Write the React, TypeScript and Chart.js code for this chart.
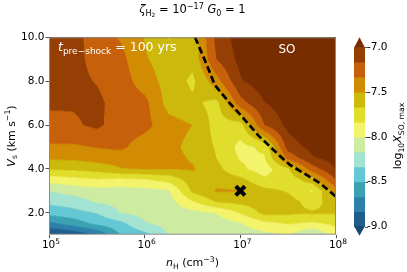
import React, { useEffect, useRef } from 'react';
import { Chart, registerables } from 'chart.js';

Chart.register(...registerables);

// ---- data -------------------------------------------------------------
// grid columns: log10 n_H (cm^-3)
const logNH = [5.0, 5.25, 5.5, 5.75, 6.0, 6.25, 6.5, 6.75, 7.0, 7.25, 7.5, 7.75, 8.0];
// grid rows: shock velocity V_s (km/s), top to bottom
const vsRows = [10, 9, 8, 7, 6, 5, 4.5, 4, 3.5, 3, 2.5, 2, 1.5, 1];

// log10 X_SO,max, one array per V_s row
const xsoVs10 = [-7.067, -7.1, -7.25, -7.35, -7.508, -7.675, -7.617, -7.117, -6.917, -6.833, -6.833, -6.833, -6.833];
const xsoVs9 = [-7.083, -7.117, -7.217, -7.283, -7.483, -7.583, -7.617, -7.167, -6.95, -6.833, -6.833, -6.833, -6.833];
const xsoVs8 = [-7.1, -7.125, -7.175, -7.25, -7.417, -7.567, -7.7, -7.4, -7.017, -6.9, -6.833, -6.833, -6.833];
const xsoVs7 = [-7.133, -7.15, -7.133, -7.233, -7.283, -7.567, -7.633, -7.717, -7.233, -7.008, -6.9, -6.833, -6.833];
const xsoVs6 = [-7.233, -7.192, -7.133, -7.25, -7.283, -7.433, -7.5, -7.733, -7.733, -7.167, -6.95, -6.867, -6.833];
const xsoVs5 = [-7.35, -7.358, -7.325, -7.3, -7.417, -7.45, -7.55, -7.683, -7.883, -7.8, -7.083, -6.95, -6.867];
const xsoVs4p5 = [-7.467, -7.467, -7.425, -7.417, -7.45, -7.45, -7.517, -7.667, -7.85, -7.85, -7.283, -7.017, -6.933];
const xsoVs4 = [-7.65, -7.633, -7.6, -7.508, -7.492, -7.492, -7.483, -7.617, -7.8, -7.917, -7.683, -7.25, -6.992];
const xsoVs3p5 = [-7.933, -7.892, -7.85, -7.883, -7.85, -7.783, -7.583, -7.567, -7.617, -7.8, -7.767, -7.583, -7.167];
const xsoVs3 = [-8.158, -8.1, -8.067, -8.067, -8.05, -8.017, -7.633, -7.483, -7.492, -7.617, -7.683, -7.85, -7.4];
const xsoVs2p5 = [-8.3, -8.25, -8.15, -8.117, -8.083, -8.067, -7.85, -7.658, -7.617, -7.583, -7.6, -7.733, -7.583];
const xsoVs2 = [-8.433, -8.392, -8.325, -8.158, -8.117, -8.083, -8.05, -7.992, -7.825, -7.617, -7.633, -7.65, -7.65];
const xsoVs1p5 = [-8.717, -8.6, -8.467, -8.383, -8.183, -8.117, -8.083, -8.083, -8.017, -7.883, -7.825, -7.867, -7.8];
const xsoVs1 = [-9.033, -8.967, -8.825, -8.492, -8.383, -8.158, -8.117, -8.117, -8.083, -8.05, -7.992, -8.183, -7.917];

const xsoGrid = [xsoVs10, xsoVs9, xsoVs8, xsoVs7, xsoVs6, xsoVs5, xsoVs4p5, xsoVs4, xsoVs3p5, xsoVs3, xsoVs2p5, xsoVs2, xsoVs1p5, xsoVs1];

// contour levels (colorbar boundaries) and colours (extend both)
const levels = [-9.0, -8.8333, -8.6667, -8.5, -8.3333, -8.1667, -8.0, -7.8333, -7.6667, -7.5, -7.3333, -7.1667, -7.0];
const bandColors = [
  '#184c72', '#1f5f8c', '#2e80aa', '#3aa2b3', '#63c7d4', '#a2e3d1', '#cdeca2',
  '#f3f36c', '#e0dd2c', '#cdb80c', '#d18c03', '#c7600a', '#963f04', '#782d00',
];

// dashed boundary curve
const dashNH = [3.36e6, 4.28e6, 5.43e6, 7.8e6, 1.067e7, 1.53e7, 2.3e7, 3.3e7, 4.74e7, 6.81e7, 1e8];
const dashVs = [10.0, 8.93, 7.81, 6.99, 6.33, 5.54, 4.8, 4.18, 3.77, 3.35, 2.73];

// marked model
const markerNH = [1e7];
const markerVs = [3.0];

// ticks
const xTicks = [1e5, 1e6, 1e7, 1e8];
const xTickExp = ['5', '6', '7', '8'];
const yTicks = [2, 4, 6, 8, 10];
const cbTicks = [-9.0, -8.5, -8.0, -7.5, -7.0];

// ---- helpers ------------------------------------------------------------
const FONT = '"DejaVu Sans"';
type Seg = { t: string; size: number; italic?: boolean; dy?: number };

function drawRich(ctx: CanvasRenderingContext2D, segs: Seg[], x: number, y: number, align: 'left' | 'center', rot = 0, color = '#000') {
  ctx.save();
  ctx.translate(x, y);
  ctx.rotate(rot);
  ctx.fillStyle = color;
  ctx.textBaseline = 'alphabetic';
  ctx.textAlign = 'left';
  const fontOf = (s: Seg) => `${s.italic ? 'italic ' : ''}${s.size}px ${FONT}`;
  let w = 0;
  for (const s of segs) {
    ctx.font = fontOf(s);
    w += ctx.measureText(s.t).width;
  }
  let cx = align === 'center' ? -w / 2 : 0;
  for (const s of segs) {
    ctx.font = fontOf(s);
    ctx.fillText(s.t, cx, s.dy || 0);
    cx += ctx.measureText(s.t).width;
  }
  ctx.restore();
}

function hexToRgb(h: string) {
  const n = parseInt(h.slice(1), 16);
  return [(n >> 16) & 255, (n >> 8) & 255, n & 255];
}

function interp(logn: number, vs: number) {
  let i = 0;
  while (i < logNH.length - 2 && logn > logNH[i + 1]) i++;
  let tx = (logn - logNH[i]) / (logNH[i + 1] - logNH[i]);
  tx = Math.max(0, Math.min(1, tx));
  let j = 0;
  while (j < vsRows.length - 2 && vs < vsRows[j + 1]) j++;
  let ty = (vsRows[j] - vs) / (vsRows[j] - vsRows[j + 1]);
  ty = Math.max(0, Math.min(1, ty));
  const g = xsoGrid;
  const a = g[j][i] * (1 - tx) + g[j][i + 1] * tx;
  const b = g[j + 1][i] * (1 - tx) + g[j + 1][i + 1] * tx;
  return a * (1 - ty) + b * ty;
}

function bandOf(v: number) {
  let k = 0;
  while (k < levels.length && v >= levels[k]) k++;
  return k;
}

const contourPlugin = {
  id: 'contourFill',
  beforeDatasetsDraw(chart: any) {
    const { ctx, chartArea: a, scales } = chart;
    const xs = scales.x;
    const ys = scales.y;
    const w = Math.round(a.right - a.left);
    const h = Math.round(a.bottom - a.top);
    const off = document.createElement('canvas');
    off.width = w;
    off.height = h;
    const octx = off.getContext('2d')!;
    const img = octx.createImageData(w, h);
    const rgb = bandColors.map(hexToRgb);
    const sub = [0.25, 0.75];
    const colLog: number[][] = [];
    for (let px = 0; px < w; px++) {
      colLog.push(sub.map((s) => Math.log10(xs.getValueForPixel(a.left + px + s))));
    }
    for (let py = 0; py < h; py++) {
      const rowVs = sub.map((s) => ys.getValueForPixel(a.top + py + s));
      for (let px = 0; px < w; px++) {
        let r = 0, g = 0, b = 0;
        for (const vs of rowVs) {
          for (const ln of colLog[px]) {
            const c = rgb[bandOf(interp(ln, vs))];
            r += c[0]; g += c[1]; b += c[2];
          }
        }
        const o = (py * w + px) * 4;
        img.data[o] = r / 4;
        img.data[o + 1] = g / 4;
        img.data[o + 2] = b / 4;
        img.data[o + 3] = 255;
      }
    }
    octx.putImageData(img, 0, 0);
    ctx.drawImage(off, a.left, a.top);
  },
  afterDraw(chart: any) {
    const { ctx, chartArea: a, scales } = chart;
    const xs = scales.x;
    const cb = scales.cb;
    ctx.save();
    // frame
    ctx.strokeStyle = '#8a8a8a';
    ctx.lineWidth = 1;
    ctx.strokeRect(a.left + 0.5, a.top + 0.5, a.right - a.left - 1, a.bottom - a.top - 1);

    // x tick labels 10^n
    xTicks.forEach((v, i) => {
      const px = xs.getPixelForValue(v);
      drawRich(ctx, [
        { t: '10', size: 10.5 },
        { t: xTickExp[i], size: 7.5, dy: -4.5 },
      ], px + 2, a.bottom + 13.5, 'center');
    });

    // axis titles
    drawRich(ctx, [
      { t: 'n', size: 11, italic: true },
      { t: 'H', size: 7.7, dy: 2.5 },
      { t: ' (cm', size: 11 },
      { t: '\u22123', size: 7.7, dy: -4.5 },
      { t: ')', size: 11 },
    ], (a.left + a.right) / 2, 266, 'center');

    drawRich(ctx, [
      { t: 'V', size: 11, italic: true },
      { t: 's', size: 7.7, dy: 2.5 },
      { t: ' (km s', size: 11 },
      { t: '\u22121', size: 7.7, dy: -4.5 },
      { t: ')', size: 11 },
    ], 14.5, (a.top + a.bottom) / 2, 'center', -Math.PI / 2);

    // title
    drawRich(ctx, [
      { t: '\u03b6', size: 11.5, italic: true },
      { t: 'H', size: 8, dy: 2.5 },
      { t: '2', size: 5.8, dy: 4 },
      { t: ' = 10', size: 11.5 },
      { t: '\u221217', size: 8, dy: -4.5 },
      { t: ' ', size: 11.5 },
      { t: 'G', size: 11.5, italic: true },
      { t: '0', size: 8, dy: 2.5 },
      { t: ' = 1', size: 11.5 },
    ], (a.left + a.right) / 2, 13, 'center');

    // annotations
    drawRich(ctx, [
      { t: 't', size: 12.5, italic: true },
      { t: 'pre\u2212shock', size: 9, dy: 3 },
      { t: ' = 100 yrs', size: 12.5 },
    ], a.left + 9, a.top + 14, 'left', 0, '#ffffff');
    drawRich(ctx, [{ t: 'SO', size: 12 }], 287, a.top + 16, 'center', 0, '#ffffff');

    // colorbar
    const bx = a.right + 18;
    const bw = 11;
    for (let k = 0; k < levels.length - 1; k++) {
      const y0 = cb.getPixelForValue(levels[k]);
      const y1 = cb.getPixelForValue(levels[k + 1]);
      ctx.fillStyle = bandColors[k + 1];
      ctx.fillRect(bx, y1, bw, y0 - y1 + 0.5);
    }
    const yTop = cb.getPixelForValue(levels[levels.length - 1]);
    const yBot = cb.getPixelForValue(levels[0]);
    ctx.fillStyle = bandColors[bandColors.length - 1];
    ctx.beginPath();
    ctx.moveTo(bx, yTop + 0.5);
    ctx.lineTo(bx + bw / 2, cb.top);
    ctx.lineTo(bx + bw, yTop + 0.5);
    ctx.closePath();
    ctx.fill();
    ctx.fillStyle = bandColors[0];
    ctx.beginPath();
    ctx.moveTo(bx, yBot - 0.5);
    ctx.lineTo(bx + bw / 2, cb.bottom + 1);
    ctx.lineTo(bx + bw, yBot - 0.5);
    ctx.closePath();
    ctx.fill();
    ctx.strokeStyle = '#333';
    ctx.lineWidth = 0.8;
    cbTicks.forEach((v) => {
      const y = Math.round(cb.getPixelForValue(v)) + 0.5;
      ctx.beginPath();
      ctx.moveTo(bx + bw, y);
      ctx.lineTo(bx + bw + 3, y);
      ctx.stroke();
    });
    drawRich(ctx, [
      { t: 'log', size: 11 },
      { t: '10', size: 7.7, dy: 2.5 },
      { t: 'X', size: 11, italic: true },
      { t: 'SO, max', size: 7.7, dy: 2.5 },
    ], 401, (a.top + a.bottom) / 2, 'center', -Math.PI / 2);
    ctx.restore();
  },
};

export default function App() {
  const ref = useRef<HTMLCanvasElement>(null);
  useEffect(() => {
    const chart = new Chart(ref.current as HTMLCanvasElement, {
      type: 'scatter',
      data: {
        datasets: [
          {
            type: 'line',
            data: dashNH.map((x, i) => ({ x, y: dashVs[i] })),
            borderColor: '#000',
            borderWidth: 2.7,
            borderDash: [7, 3.5],
            pointRadius: 0,
            fill: false,
            tension: 0,
          } as any,
          {
            type: 'scatter',
            data: markerNH.map((x, i) => ({ x, y: markerVs[i] })),
            pointStyle: 'crossRot',
            pointRadius: 6.5,
            borderWidth: 4,
            borderColor: '#000',
            backgroundColor: '#000',
          } as any,
        ],
      },
      options: {
        responsive: false,
        animation: false,
        events: [],
        layout: { padding: { top: 19, left: 0, right: 0, bottom: 0 } },
        plugins: { legend: { display: false }, tooltip: { enabled: false }, title: { display: false } },
        scales: {
          x: {
            type: 'logarithmic',
            min: 1e5,
            max: 1e8,
            position: 'bottom',
            afterBuildTicks: (s: any) => { s.ticks = xTicks.map((v) => ({ value: v, major: true })); },
            afterFit: (s: any) => { s.height = 35; },
            ticks: { display: false },
            grid: { drawOnChartArea: false, drawTicks: true, tickLength: 3.5, color: '#222', lineWidth: 0.8 },
            border: { display: false },
          },
          y: {
            type: 'linear',
            min: 1,
            max: 10,
            position: 'left',
            afterBuildTicks: (s: any) => { s.ticks = yTicks.map((v) => ({ value: v })); },
            afterFit: (s: any) => { s.width = 49; },
            ticks: {
              autoSkip: false,
              callback: (v: any) => Number(v).toFixed(1),
              font: { family: 'DejaVu Sans', size: 10.5 },
              color: '#000',
              padding: 1,
            },
            grid: { drawOnChartArea: false, drawTicks: true, tickLength: 3.5, color: '#222', lineWidth: 0.8 },
            border: { display: false },
          },
          cb: {
            type: 'linear',
            position: 'right',
            min: -9.0909,
            max: -6.8889,
            afterBuildTicks: (s: any) => { s.ticks = cbTicks.map((v) => ({ value: v })); },
            afterFit: (s: any) => { s.width = 71; },
            ticks: {
              autoSkip: false,
              callback: (v: any) => Number(v).toFixed(1),
              font: { family: 'DejaVu Sans', size: 10.5 },
              color: '#000',
              padding: 31,
            },
            grid: { display: false, drawTicks: false },
            border: { display: false },
          },
        },
      } as any,
      plugins: [contourPlugin as any],
    });
    return () => chart.destroy();
  }, []);
  return (
    <div style={{ position: 'absolute', left: 0, top: 0, width: 407, height: 272, background: '#fff' }}>
      <canvas ref={ref} width={407} height={272} style={{ width: 407, height: 272, display: 'block' }} />
    </div>
  );
}
